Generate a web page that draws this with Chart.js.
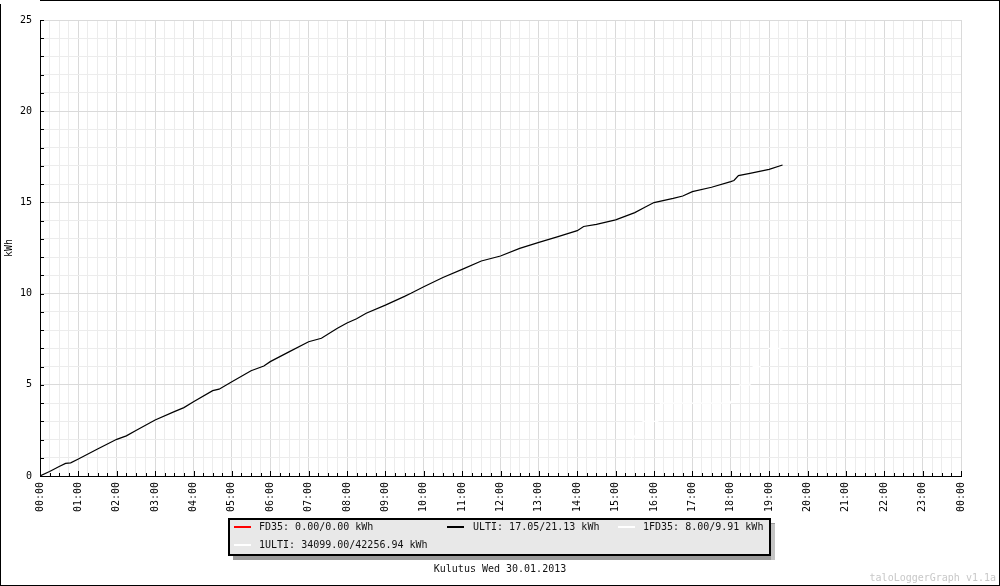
<!DOCTYPE html>
<html>
<head>
<meta charset="utf-8">
<script src="https://cdn.jsdelivr.net/npm/chart.js@4.4.1/dist/chart.umd.min.js"></script>
<style>
  html, body { margin: 0; padding: 0; background: #fff; }
  #wrap { width: 1000px; height: 586px; position: relative; }
</style>
</head>
<body>
<div id="wrap"><canvas id="c" width="1000" height="586"></canvas></div>
<script>
// ---- data ----
const hourLabels = ['00:00','01:00','02:00','03:00','04:00','05:00','06:00','07:00','08:00','09:00','10:00','11:00',
  '12:00','13:00','14:00','15:00','16:00','17:00','18:00','19:00','20:00','21:00','22:00','23:00','00:00'];

const ultiTimes = ['00:00','00:15','00:30','00:40','00:48','01:00','01:30','02:00','02:15','02:30','03:00','03:30','03:45',
  '04:00','04:30','04:40','05:00','05:30','05:50','06:00','06:30','07:00','07:20','07:45','08:00','08:15','08:30',
  '09:00','09:30','09:40','10:00','10:30','11:00','11:30','12:00','12:30','13:00','13:30','14:00','14:10','14:30',
  '15:00','15:30','15:45','16:00','16:30','16:45','17:00','17:30','18:00','18:05','18:12','18:30','19:00','19:21'];
const ultiValues = [0,0.25,0.52,0.69,0.72,0.93,1.48,2.01,2.2,2.5,3.07,3.53,3.75,
  4.07,4.68,4.76,5.17,5.77,6.03,6.27,6.82,7.36,7.55,8.1,8.39,8.62,8.92,
  9.37,9.85,10.02,10.38,10.88,11.33,11.79,12.06,12.48,12.81,13.12,13.45,13.68,13.8,
  14.04,14.44,14.72,14.99,15.22,15.35,15.59,15.83,16.14,16.2,16.47,16.59,16.81,17.05];

const fd1Times = ['15:25','15:27','15:43','16:06','16:10','17:59','18:14','18:30','18:35','18:46','19:00','19:17','19:18','19:21'];
const fd1Values = [1,2,3,3,4,4,5,5,6,6,7,7,8,8];

const fdTimes = [];
const fdValues = [];
const ulti1Times = [];
const ulti1Values = [];

const seriesLabels = ['FD35: 0.00/0.00 kWh','ULTI: 17.05/21.13 kWh','1FD35: 8.00/9.91 kWh','1ULTI: 34099.00/42256.94 kWh'];
const chartTitle = 'Kulutus Wed 30.01.2013';
const watermark = 'taloLoggerGraph v1.1a';
const yTitle = 'kWh';

// ---- helpers ----
function toHours(t) { const p = t.split(':'); return (+p[0]) + (+p[1]) / 60; }
function pts(times, vals) { return times.map((t, i) => ({ x: toHours(t), y: vals[i] })); }

const FONT = '"DejaVu Sans Mono", "Liberation Mono", monospace';

const decor = {
  id: 'decor',
  afterDatasetsDraw(chart) {
    const ctx = chart.ctx;
    const xs = chart.scales.x, ys = chart.scales.y;
    const ca = chart.chartArea;
    ctx.save();
    ctx.strokeStyle = '#000';
    ctx.lineWidth = 1;
    ctx.beginPath();
    for (let v = 0; v <= 25; v++) {
      const y = Math.round(ys.getPixelForValue(v)) + 0.5;
      ctx.moveTo(ca.left, y); ctx.lineTo(ca.left + 4, y);
    }
    for (let q = 0; q <= 96; q++) {
      const x = Math.round(xs.getPixelForValue(q / 4)) + 0.5;
      const len = (q % 4 === 0) ? 5 : 3;
      ctx.moveTo(x, ca.bottom); ctx.lineTo(x, ca.bottom - len);
    }
    ctx.stroke();
    ctx.restore();
  },
  afterDraw(chart) {
    const ctx = chart.ctx;
    ctx.save();
    ctx.fillStyle = '#9a9a9a';
    ctx.fillRect(233, 523, 542, 37);
    ctx.fillStyle = '#c4c4c4';
    ctx.fillRect(771, 524, 4, 36);
    ctx.fillStyle = '#e8e8e8';
    ctx.fillRect(229, 519, 541, 36);
    ctx.strokeStyle = '#000';
    ctx.lineWidth = 2;
    ctx.strokeRect(229, 519, 541, 36);

    const items = [
      { lx: 234, tx: 259, y: 527 },
      { lx: 447, tx: 473, y: 527 },
      { lx: 618, tx: 643, y: 527 },
      { lx: 234, tx: 259, y: 545 }
    ];
    ctx.font = '10px ' + FONT;
    ctx.textBaseline = 'middle';
    ctx.textAlign = 'left';
    chart.data.datasets.forEach((ds, i) => {
      const it = items[i];
      ctx.strokeStyle = ds.borderColor;
      ctx.lineWidth = 2;
      ctx.beginPath();
      ctx.moveTo(it.lx, it.y); ctx.lineTo(it.lx + 17, it.y);
      ctx.stroke();
      ctx.fillStyle = '#111';
      ctx.fillText(ds.label, it.tx, it.y + 0.5);
    });

    ctx.textAlign = 'center';
    ctx.fillStyle = '#111';
    ctx.fillText(chartTitle, 500, 569);

    ctx.textAlign = 'right';
    ctx.fillStyle = '#c8c8c8';
    ctx.fillText(watermark, 996, 578);

    ctx.fillStyle = '#000';
    ctx.fillRect(40, 0, 960, 1);
    ctx.fillRect(0, 4, 1, 582);
    ctx.fillRect(0, 585, 1000, 1);
    ctx.fillRect(999, 0, 1, 586);
    ctx.restore();
  }
};

new Chart(document.getElementById('c'), {
  type: 'line',
  data: {
    datasets: [
      { label: seriesLabels[0], data: pts(fdTimes, fdValues), borderColor: '#ff0000', borderWidth: 1.2 },
      { label: seriesLabels[1], data: pts(ultiTimes, ultiValues), borderColor: '#000000', borderWidth: 1.2 },
      { label: seriesLabels[2], data: pts(fd1Times, fd1Values), borderColor: '#ffffff', borderWidth: 1.2 },
      { label: seriesLabels[3], data: pts(ulti1Times, ulti1Values), borderColor: '#ffffff', borderWidth: 1.2 }
    ]
  },
  options: {
    responsive: false,
    animation: false,
    devicePixelRatio: 1,
    elements: { point: { radius: 0 }, line: { tension: 0, borderCapStyle: 'butt' } },
    layout: { padding: { left: 0, top: 20, right: 39, bottom: 70 } },
    plugins: { legend: { display: false }, tooltip: { enabled: false }, title: { display: false } },
    scales: {
      x: {
        type: 'linear', min: 0, max: 24,
        afterFit(s) { s.height = 40; },
        ticks: {
          stepSize: 0.25, autoSkip: false, maxRotation: 90, minRotation: 90, padding: 6,
          color: '#000', font: { family: FONT, size: 10 },
          callback(v) { return Number.isInteger(v) ? hourLabels[v] : ''; }
        },
        afterBuildTicks(s) {
          const t = [];
          for (let q = 0; q <= 96; q++) t.push({ value: q / 4 });
          s.ticks = t;
        },
        grid: {
          drawTicks: false,
          color(c) { return (c.tick && Number.isInteger(c.tick.value)) ? '#dadada' : '#ececec'; },
          lineWidth: 1
        },
        border: { display: true, color: '#000', width: 1 }
      },
      y: {
        type: 'linear', min: 0, max: 25,
        afterFit(s) { s.width = 40; },
        ticks: {
          stepSize: 1, autoSkip: false, padding: 8,
          color: '#000', font: { family: FONT, size: 10 },
          callback(v) { return (v % 5 === 0) ? String(v) : ''; }
        },
        grid: {
          drawTicks: false,
          color(c) { return (c.tick && c.tick.value % 5 === 0) ? '#dadada' : '#ececec'; },
          lineWidth: 1
        },
        border: { display: true, color: '#000', width: 1 },
        title: { display: true, text: yTitle, color: '#000', font: { family: FONT, size: 10 }, padding: { top: 3, bottom: 0 } }
      }
    }
  },
  plugins: [decor]
});
</script>
</body>
</html>
